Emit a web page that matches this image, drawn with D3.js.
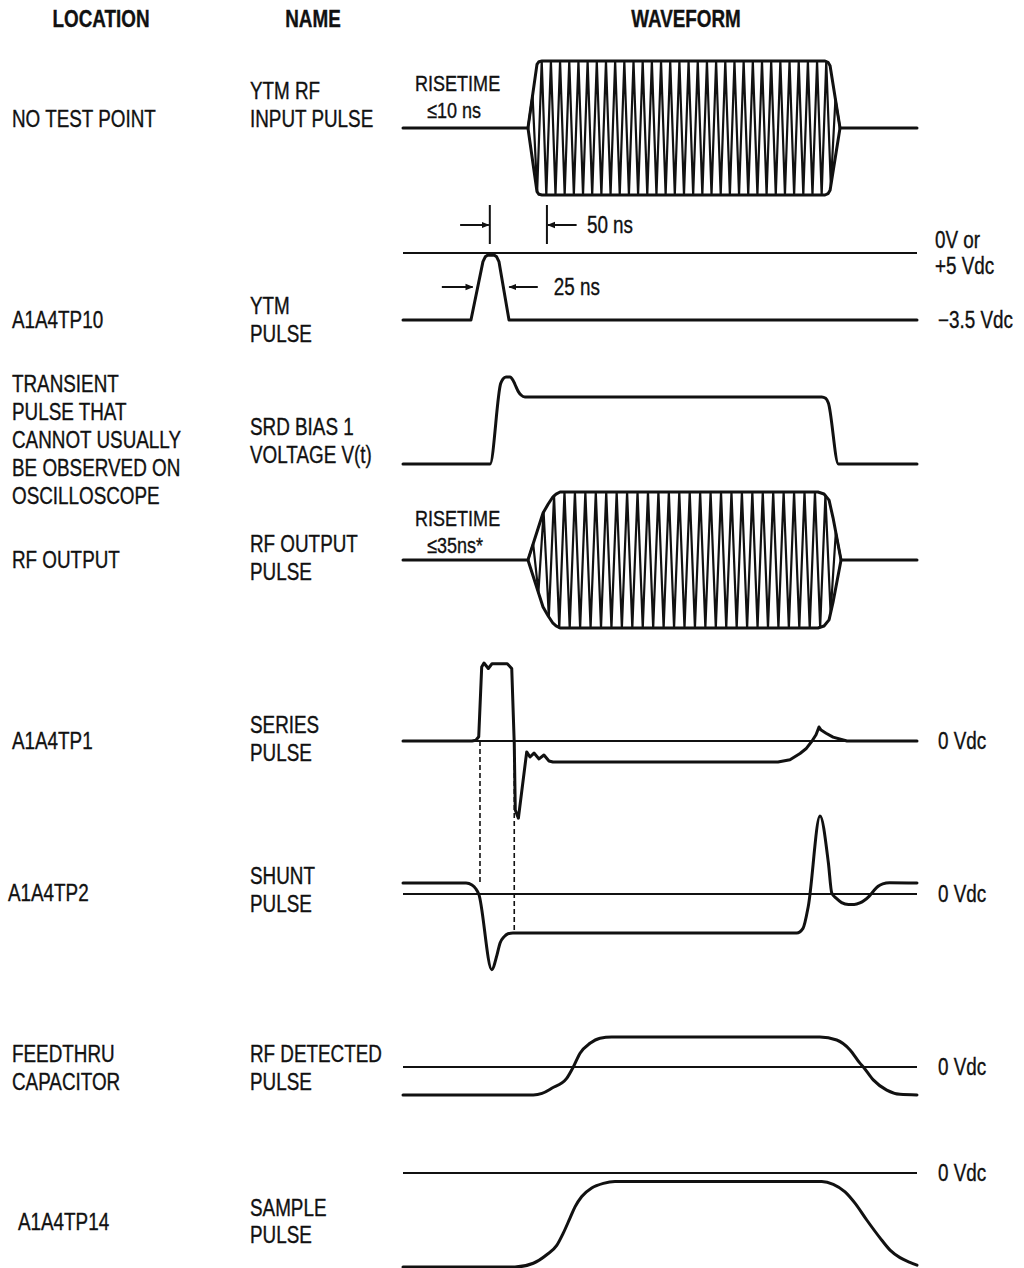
<!DOCTYPE html>
<html>
<head>
<meta charset="utf-8">
<script src="https://cdn.jsdelivr.net/npm/d3@7"></script>
<style>
  body { margin: 0; background: #fff; }
  svg { display: block; }
  text { font-family: "Liberation Sans", Arial, sans-serif; fill: #111; stroke: #111; stroke-width: 0.35px; }
</style>
</head>
<body>
<svg id="chart" width="1024" height="1268"></svg>
<script>
// ---- labels ----
const headers = ["LOCATION", "NAME", "WAVEFORM"];
const locations = [
  ["NO TEST POINT"],
  ["A1A4TP10"],
  ["TRANSIENT", "PULSE THAT", "CANNOT USUALLY", "BE OBSERVED ON", "OSCILLOSCOPE"],
  ["RF OUTPUT"],
  ["A1A4TP1"],
  ["A1A4TP2"],
  ["FEEDTHRU", "CAPACITOR"],
  ["A1A4TP14"]
];
const names = [
  ["YTM RF", "INPUT PULSE"],
  ["YTM", "PULSE"],
  ["SRD BIAS 1", "VOLTAGE V(t)"],
  ["RF OUTPUT", "PULSE"],
  ["SERIES", "PULSE"],
  ["SHUNT", "PULSE"],
  ["RF DETECTED", "PULSE"],
  ["SAMPLE", "PULSE"]
];
const riseLabels = [["RISETIME", "\u226410 ns"], ["RISETIME", "\u226435ns*"]];
const dimLabels = ["50 ns", "25 ns"];

// ---- waveform data: [time ns, level] ----
// RF envelopes: [t, amplitude]
const rfInEnvelope = [[109.4, 0], [117.3, 0.95], [119, 0.99], [121.7, 1], [369.5, 1], [372.1, 0.98], [373.9, 0.93], [382.6, 0]];
const rfOutEnvelope = [[109.4, 0], [122.6, 0.69], [127, 0.82], [131.3, 0.93], [134, 0.97], [137.5, 1], [363.3, 1], [368.6, 0.97], [373, 0.88], [376.5, 0.62], [383.5, 0]];
const rfInCycles = 34;
const rfOutCycles = 30;

// YTM pulse in volts
const ytmPulse = [[0, -3.5], [59.5, -3.5], [70, -0.45], [72, -0.2], [74, -0.12], [80, -0.12], [82, -0.2], [84, -0.45], [92.8, -3.5], [450, -3.5]];
const ytmMarks50 = [76, 126];
const ytmMarks25 = [61, 93];

const srdBias = [[0, 0], [76.2, 0], [85.5, 1.2], [87.6, 1.27], [90.2, 1.3], [93.7, 1.3], [96.3, 1.25], [98, 1.19], [101, 1.08],
  [103.3, 1.03], [106.8, 1], [366.6, 1], [370, 0.98], [372.4, 0.91], [381.2, 0], [450, 0]];

const seriesPulse = [[0, 0], [60.4, 0], [63.8, 0.01], [66.3, 0.055], [68.9, 0.95], [70.9, 1], [74.7, 0.93], [77.9, 0.99], [80.5, 0.99],
  [91.3, 0.99], [95.2, 0.93], [97.4, -0.03], [98.3, -0.885], [101, -0.99], [108.3, -0.14], [111.2, -0.205], [114.7, -0.155],
  [119.1, -0.23], [123.4, -0.18], [127.8, -0.256], [131.3, -0.27], [328.3, -0.27], [338.8, -0.24], [347.6, -0.16], [352.8, -0.1],
  [358.1, 0], [361.6, 0.08], [364.2, 0.18], [366, 0.14], [370.4, 0.1], [376.5, 0.05], [388.7, 0], [450, 0]];

const shuntPulse = [[0, 0.14], [55.2, 0.14], [60.4, 0.115], [63.9, 0.064], [66.3, 0], [77.7, -0.97], [82.3, -0.78], [84.9, -0.63],
  [88.4, -0.55], [91.9, -0.51], [96.3, -0.5], [344.7, -0.5], [350.2, -0.44], [354.8, -0.16], [365.1, 1], [372.4, 0.4],
  [375.4, 0.01], [379.7, -0.06], [384, -0.11], [390, -0.135], [395, -0.135], [400, -0.115], [404, -0.08], [408, -0.03],
  [412, 0.04], [416, 0.1], [420, 0.13], [426, 0.145], [450, 0.14]];
const shuntLevels = { high: 0.14, low: -0.5 };
const edgeTimes = [67.4, 97.4];

const detectedPulse = [[0, -0.93], [114.1, -0.93], [121.7, -0.88], [130.2, -0.71], [143.3, -0.38], [149.1, 0], [155, 0.46],
  [163.7, 0.79], [172.5, 0.96], [182.7, 1], [365, 1], [379.7, 0.9], [391.4, 0.57], [400.2, 0.12], [403, 0], [411.7, -0.43],
  [423.5, -0.77], [435.1, -0.91], [450, -0.93]];

const samplePulse = [[0, -1], [98, -1], [114.1, -0.96], [125.8, -0.87], [134.6, -0.77], [140.3, -0.64], [146.2, -0.48],
  [150.6, -0.36], [156.5, -0.25], [165.2, -0.16], [175.4, -0.11], [185.6, -0.09], [366.6, -0.09], [376.7, -0.12], [387, -0.2],
  [395.7, -0.32], [406, -0.5], [417.6, -0.69], [426.4, -0.82], [435.1, -0.9], [443.8, -0.95], [450, -0.98]];

// reference level labels: [row, level, text]
const levelLabels = [
  ["ytm", 0, ["0V or", "+5 Vdc"]],
  ["ytm", -3.5, ["\u22123.5 Vdc"]],
  ["series", 0, ["0 Vdc"]],
  ["shunt", 0, ["0 Vdc"]],
  ["detected", 0, ["0 Vdc"]],
  ["sample", 0, ["0 Vdc"]]
];

// ---- layout ----
const svg = d3.select("#chart");
const x = d3.scaleLinear().domain([0, 450]).range([403, 917]);
const rows = {
  rfIn:     d3.scaleLinear().domain([-1, 1]).range([195, 61]),
  ytm:      d3.scaleLinear().domain([-3.5, 0]).range([320, 253]),
  srd:      d3.scaleLinear().domain([0, 1]).range([464, 397]),
  rfOut:    d3.scaleLinear().domain([-1, 1]).range([628, 492]),
  series:   d3.scaleLinear().domain([-1, 1]).range([819, 663]),
  shunt:    d3.scaleLinear().domain([-1, 1]).range([972, 816]),
  detected: d3.scaleLinear().domain([-1, 1]).range([1097, 1037]),
  sample:   d3.scaleLinear().domain([-1, 0]).range([1267, 1173])
};
const locX = [12, 12, 12, 12, 12, 8, 12, 18];
const locY = [127, 328, 392, 568, 749, 901, 1062, 1230];
const nameY = [99, 314, 435, 552, 733, 884, 1062, 1216];
const lineH = 28;
const NARROW = 0.82; // condensed face: squeeze a regular sans

// text helper, squeezed horizontally
function label(x0, y0, lines, size, opts = {}) {
  const t = svg.append("text")
    .attr("transform", `translate(${x0},${y0}) scale(${NARROW},1)`)
    .style("font-size", size + "px");
  if (opts.bold) t.style("font-weight", "bold");
  if (opts.anchor) t.attr("text-anchor", opts.anchor);
  t.selectAll("tspan").data(lines).join("tspan")
    .attr("x", (d, i) => (i && opts.indent ? opts.indent / NARROW : 0))
    .attr("dy", (d, i) => i ? (opts.lh || lineH) : 0)
    .text(d => d);
  return t;
}

// headers
const headX = [101, 313, 686];
headers.forEach((h, i) => label(headX[i], 27, [h], 23, { bold: true, anchor: "middle" }));

locations.forEach((lines, i) => label(locX[i], locY[i], lines, 23));
names.forEach((lines, i) => label(250, nameY[i], lines, 23, { lh: i === 7 ? 27 : 28 }));

// reference (0 V) lines
const refRows = ["ytm", "series", "shunt", "detected", "sample"];
svg.selectAll("line.ref").data(refRows).join("line")
  .attr("class", "ref")
  .attr("x1", x(0)).attr("x2", x(450))
  .attr("y1", d => rows[d](0)).attr("y2", d => rows[d](0))
  .attr("stroke", "#111").attr("stroke-width", 2);

// level labels
levelLabels.forEach(d => {
  const y0 = rows[d[0]](d[1]) + (d[2].length > 1 ? -5 : 8);
  label(d[2].length > 1 ? 935 : 938, y0, d[2], 23, { lh: 26 });
});

// traces
const trace = (key, curve) => d3.line().x(d => x(d[0])).y(d => rows[key](d[1])).curve(curve || d3.curveLinear);
const traceData = [
  ["ytm", ytmPulse, d3.curveLinear],
  ["srd", srdBias, d3.curveMonotoneX],
  ["series", seriesPulse, d3.curveLinear],
  ["shunt", shuntPulse, d3.curveMonotoneX],
  ["detected", detectedPulse, d3.curveMonotoneX],
  ["sample", samplePulse, d3.curveMonotoneX]
];
svg.selectAll("path.trace").data(traceData).join("path")
  .attr("class", "trace")
  .attr("d", d => trace(d[0], d[2])(d[1]))
  .attr("fill", "none").attr("stroke", "#111").attr("stroke-width", 3)
  .attr("stroke-linejoin", "round").attr("stroke-linecap", "round");

// RF bursts
function carrier(env, cycles) {
  const amp = d3.scaleLinear().domain(env.map(d => d[0])).range(env.map(d => d[1]));
  const t0 = env[0][0], t1 = env[env.length - 1][0], n = cycles * 2;
  return d3.range(n + 1).map(k => {
    const t = t0 + (t1 - t0) * k / n;
    return [t, (k % 2 ? 1 : -1) * amp(t)];
  });
}
function burst(key, env, cycles) {
  const y = rows[key];
  const g = svg.append("g").attr("fill", "none").attr("stroke", "#111")
    .attr("stroke-linejoin", "round").attr("stroke-linecap", "round");
  const t0 = env[0][0], t1 = env[env.length - 1][0];
  const ln = d3.line().x(d => x(d[0])).y(d => y(d[1]));
  g.append("path").attr("d", ln(carrier(env, cycles))).attr("stroke-width", 2.2);
  g.append("path").attr("d", ln([[0, 0], [t0, 0]])).attr("stroke-width", 3);
  g.append("path").attr("d", ln([[t1, 0], [450, 0]])).attr("stroke-width", 3);
  const outline = env.concat(env.slice().reverse().map(d => [d[0], -d[1]]));
  g.append("path").attr("stroke-width", 3)
    .attr("d", d3.line().x(d => x(d[0])).y(d => y(d[1])).curve(d3.curveLinearClosed)(outline));
}
burst("rfIn", rfInEnvelope, rfInCycles);
burst("rfOut", rfOutEnvelope, rfOutCycles);

// risetime labels
const riseY = [91, 526];
riseLabels.forEach((lines, i) => label(415, riseY[i], lines, 22, { indent: 12, lh: 27 }));

// dimension marks
const defs = svg.append("defs");
defs.append("marker").attr("id", "arr").attr("viewBox", "0 0 10 10")
  .attr("refX", 9).attr("refY", 5).attr("markerWidth", 4).attr("markerHeight", 4)
  .attr("orient", "auto-start-reverse")
  .append("path").attr("d", "M0,1 L10,5 L0,9 Z").attr("fill", "#111");

const dimG = svg.append("g").attr("stroke", "#111").attr("stroke-width", 2);
ytmMarks50.forEach(t => {
  dimG.append("line").attr("x1", x(t)).attr("x2", x(t)).attr("y1", 205).attr("y2", 244);
});
dimG.append("line").attr("x1", x(ytmMarks50[0] - 26)).attr("x2", x(ytmMarks50[0]) - 1)
  .attr("y1", 225).attr("y2", 225).attr("marker-end", "url(#arr)");
dimG.append("line").attr("x1", x(ytmMarks50[1] + 26)).attr("x2", x(ytmMarks50[1]) + 1)
  .attr("y1", 225).attr("y2", 225).attr("marker-end", "url(#arr)");
dimG.append("line").attr("x1", x(ytmMarks25[0] - 27)).attr("x2", x(ytmMarks25[0]))
  .attr("y1", 287).attr("y2", 287).attr("marker-end", "url(#arr)");
dimG.append("line").attr("x1", x(ytmMarks25[1] + 25)).attr("x2", x(ytmMarks25[1]))
  .attr("y1", 287).attr("y2", 287).attr("marker-end", "url(#arr)");

label(x(ytmMarks50[1] + 35), 233, [dimLabels[0]], 23);
label(x(ytmMarks25[1] + 39), 295, [dimLabels[1]], 23);

// dashed timing lines from series to shunt
svg.selectAll("line.dash").data(edgeTimes).join("line")
  .attr("class", "dash")
  .attr("x1", d => x(d)).attr("x2", d => x(d))
  .attr("y1", rows.series(0))
  .attr("y2", (d, i) => rows.shunt(i ? shuntLevels.low : shuntLevels.high))
  .attr("stroke", "#111").attr("stroke-width", 1.6).attr("stroke-dasharray", "5,3");
</script>
</body>
</html>
